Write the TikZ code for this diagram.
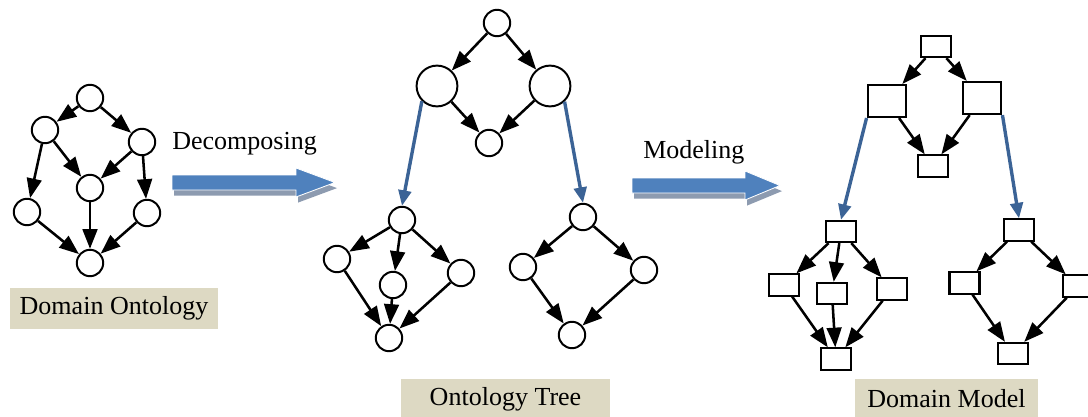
\documentclass[tikz,border=0pt]{standalone}
\usepackage{fontspec}
\setmainfont{Liberation Serif}
\usetikzlibrary{arrows.meta,positioning,shapes.geometric}
\definecolor{flowblue}{RGB}{79,129,189}
\definecolor{flowshadow}{RGB}{141,155,176}
\definecolor{linkblue}{RGB}{59,99,150}
\definecolor{labeltan}{RGB}{221,217,195}

\begin{document}
\begin{tikzpicture}[x=0.025cm, y=-0.025cm,
    onto/.style={circle, draw, line width=1.4pt, minimum size=0.66cm, inner sep=0pt},
    bigonto/.style={onto, minimum size=1.02cm},
    ent/.style={rectangle, draw, line width=1.5pt, minimum width=0.75cm,
                minimum height=0.53cm, inner sep=0pt},
    bigent/.style={ent, minimum width=0.97cm, minimum height=0.8cm},
    tag/.style={fill=labeltan, inner sep=0pt, minimum height=1.02cm,
                font=\fontsize{18.5}{22}\selectfont},
    caption/.style={anchor=base west, inner sep=0pt, font=\fontsize{18.5}{22}\selectfont},
    link/.style={-{Triangle[length=14pt,width=10.5pt]}, line width=1.8pt},
    refine/.style={-{Triangle[length=11pt,width=9pt]}, line width=2.4pt, linkblue}
  ]
    \useasboundingbox[fill=white] (0,0) rectangle (1088,416);

    % Domain ontology
    \node[onto] (o1) at (90,98) {};
    \node[onto] (o2) at (45,130) {};
    \node[onto] (o3) at (142,142) {};
    \node[onto] (o4) at (90,188) {};
    \node[onto] (o5) at (27,212) {};
    \node[onto] (o6) at (147,213) {};
    \node[onto] (o7) at (90,263) {};
    \foreach \a/\b in {o1/o2, o1/o3, o2/o5, o2/o4, o3/o4, o3/o6, o4/o7, o5/o7, o6/o7}
      \draw[link] (\a) -- (\b);
    \node[tag, minimum width=5.2cm] (lbl-onto) at (114,308.5) {Domain Ontology};

    % Block arrows with shadow
    \foreach \l/\m/\r/\c in {172/296/335/182.5, 632/745/780/185.5}{
      \fill[flowshadow, xshift=0.05cm, yshift=-0.14cm]
        (\l,\c-7.5) -- (\m,\c-7.5) -- (\m,\c-14.5) -- (\r,\c)
        -- (\m,\c+14.5) -- (\m,\c+7.5) -- (\l,\c+7.5) -- cycle;
      \filldraw[fill=flowblue, draw=white, line width=0.6pt]
        (\l,\c-7.5) -- (\m,\c-7.5) -- (\m,\c-14.5) -- (\r,\c)
        -- (\m,\c+14.5) -- (\m,\c+7.5) -- (\l,\c+7.5) -- cycle;
    }
    \node[caption] (cap-dec) at (172,149) {Decomposing};
    \node[caption] (cap-mod) at (643,158) {Modeling};

    % Ontology tree
    \node[onto] (t1) at (497,23) {};
    \node[bigonto] (t2) at (437,86) {};
    \node[bigonto] (t3) at (550,86) {};
    \node[onto] (t4) at (489,143) {};
    \foreach \a/\b in {t1/t2, t1/t3, t2/t4, t3/t4}
      \draw[link] (\a) -- (\b);

    \node[onto] (ta1) at (402,220) {};
    \node[onto] (ta2) at (337,259) {};
    \node[onto] (ta3) at (393,285) {};
    \node[onto] (ta4) at (461,273) {};
    \node[onto] (ta5) at (389,338) {};
    \foreach \a/\b in {ta1/ta2, ta1/ta3, ta1/ta4, ta2/ta5, ta3/ta5, ta4/ta5}
      \draw[link] (\a) -- (\b);

    \node[onto] (tb1) at (583,217) {};
    \node[onto] (tb2) at (523,267) {};
    \node[onto] (tb3) at (644,270) {};
    \node[onto] (tb4) at (572,335) {};
    \foreach \a/\b in {tb1/tb2, tb1/tb3, tb2/tb4, tb3/tb4}
      \draw[link] (\a) -- (\b);

    \draw[refine] (t2.225) -- (ta1.north);
    \draw[refine] (t3.-47) -- (tb1.north);
    \node[tag, minimum width=5.22cm] (lbl-tree) at (505.5,399) {Ontology Tree};

    % Domain model
    \node[ent] (m1) at (936,46.5) {};
    \node[bigent] (m2) at (887,101) {};
    \node[bigent] (m3) at (982,98) {};
    \node[ent] (m4) at (933,166) {};
    \foreach \a/\b in {m1/m2, m1/m3, m2/m4, m3/m4}
      \draw[link] (\a) -- (\b);

    \node[ent] (ma1) at (841,231.5) {};
    \node[ent] (ma2) at (784,285) {};
    \node[ent] (ma3) at (832,293.5) {};
    \node[ent] (ma4) at (892,289) {};
    \node[ent] (ma5) at (836,359) {};
    \foreach \a/\b in {ma1/ma2, ma1/ma3, ma1/ma4, ma2/ma5, ma3/ma5, ma4/ma5}
      \draw[link] (\a) -- (\b);

    \node[ent] (mb1) at (1019,230) {};
    \node[ent] (mb2) at (964.5,283) {};
    \node[ent] (mb3) at (1078,286) {};
    \node[ent] (mb4) at (1013,353.5) {};
    \foreach \a/\b in {mb1/mb2, mb1/mb3, mb2/mb4, mb3/mb4}
      \draw[link] (\a) -- (\b);

    \draw[refine] (m2.south west) -- (ma1.north);
    \draw[refine] (m3.south east) -- (mb1.north);
    \node[tag, minimum width=4.58cm] (lbl-model) at (946.5,399) {Domain Model};
  \end{tikzpicture}
\end{document}
